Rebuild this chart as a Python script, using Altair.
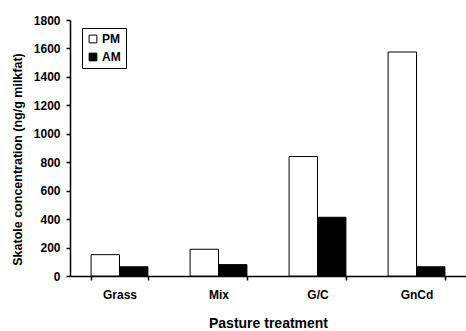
import altair as alt
import pandas as pd

categories = ["Grass", "Mix", "G/C", "GnCd"]
pm_values = [150, 188, 840, 1575]
am_values = [65, 80, 413, 65]
series = ["PM", "AM"]

rows = []
for c, p, a in zip(categories, pm_values, am_values):
    rows.append({"treatment": c, "time": "PM", "value": p})
    rows.append({"treatment": c, "time": "AM", "value": a})
df = pd.DataFrame(rows)

FONT = "Liberation Sans"

chart = alt.Chart(df).mark_bar(stroke="black", strokeWidth=1).encode(
    x=alt.X("treatment:N", sort=categories,
            scale=alt.Scale(paddingInner=0.426, paddingOuter=0.213),
            axis=alt.Axis(title="Pasture treatment", labelAngle=0, tickBand="extent",
                          domainColor="black", domainWidth=1.5, tickColor="black",
                          tickWidth=1.5, tickSize=4, labelFont=FONT, labelFontSize=12,
                          labelFontWeight="bold", labelColor="black", labelPadding=9,
                          titleFont=FONT, titleFontSize=14, titleFontWeight="bold",
                          titleColor="black", titleY=47, titleBaseline="middle")),
    xOffset=alt.XOffset("time:N", sort=series),
    y=alt.Y("value:Q", scale=alt.Scale(domain=[0, 1800], nice=False),
            axis=alt.Axis(title="Skatole concentration (ng/g milkfat)",
                          values=list(range(0, 1801, 200)), format="d", grid=False,
                          domainColor="black", domainWidth=1.5, tickColor="black",
                          tickWidth=1.5, tickSize=4, labelFont=FONT, labelFontSize=12,
                          labelFontWeight="bold", labelColor="black", labelPadding=6,
                          titleFont=FONT, titleFontSize=12.5, titleFontWeight="bold",
                          titleColor="black", titleX=-53, titleY=139,
                          titleBaseline="middle", titleAngle=270)),
    color=alt.Color("time:N", sort=series,
                    scale=alt.Scale(domain=series, range=["white", "black"]),
                    legend=alt.Legend(title=None, orient="none", legendX=12, legendY=8,
                                      symbolType="square", symbolSize=60,
                                      symbolStrokeColor="black", symbolStrokeWidth=1,
                                      labelFont=FONT, labelFontSize=12,
                                      labelFontWeight="bold", labelColor="black",
                                      strokeColor="black", fillColor="white",
                                      padding=5, rowPadding=6, labelOffset=3)),
).properties(
    width=396, height=256,
    autosize=alt.AutoSizeParams(type="none"),
    padding={"left": 70, "top": 20, "right": 0, "bottom": 55},
    background="white",
).configure_view(stroke=None)

chart.save("out.html", embed_options={"renderer": "svg", "actions": False})
